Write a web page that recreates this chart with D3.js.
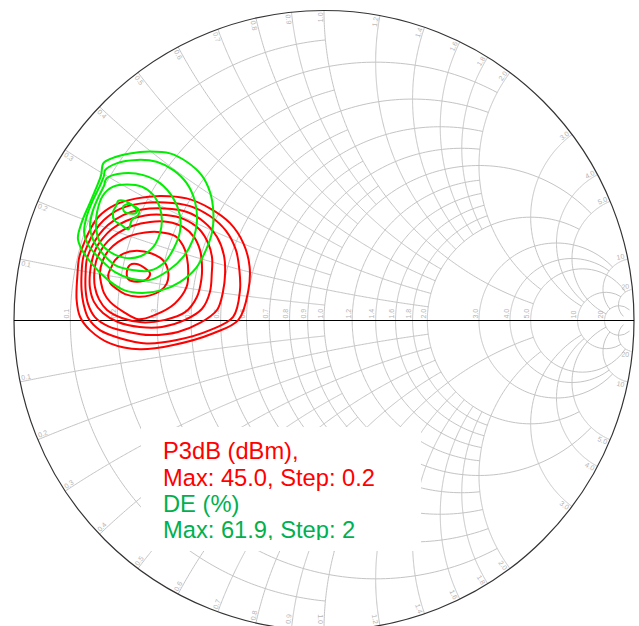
<!DOCTYPE html>
<html>
<head>
<meta charset="utf-8">
<script src="https://cdn.jsdelivr.net/npm/d3@7"></script>
<style>
  html, body { margin: 0; padding: 0; background: #ffffff; }
  svg { display: block; }
</style>
</head>
<body>
<svg id="chart" width="639" height="626"></svg>
<script>
// Grid values shared by resistance circles and reactance arcs
const gridValues = [0.1, 0.2, 0.3, 0.4, 0.5, 0.6, 0.7, 0.8, 0.9, 1.0, 1.2, 1.4, 1.6, 1.8, 2.0, 3.0, 4.0, 5.0, 10, 20];
// Each circle/arc stops where it meets the one of this value
const gridLimits = [1, 2, 1, 2, 1, 2, 1, 2, 1, 5, 2, 2, 2, 2, 5, 10, 10, 20, 20, 50];
const gridLabels = ["0.1", "0.2", "0.3", "0.4", "0.5", "0.6", "0.7", "0.8", "0.9", "1.0", "1.2", "1.4", "1.6", "1.8", "2.0", "3.0", "4.0", "5.0", "10", "20"];

// P3dB contours (reflection coefficient, re/im), innermost first
const p3dbContours = [
  [[-0.636,0.157],[-0.626,0.179],[-0.604,0.182],[-0.577,0.168],[-0.561,0.152],[-0.572,0.133],[-0.604,0.125],[-0.631,0.133]],
  [[-0.696,0.147],[-0.685,0.174],[-0.674,0.195],[-0.647,0.216],[-0.604,0.225],[-0.556,0.216],[-0.520,0.195],[-0.503,0.160],[-0.507,0.120],[-0.529,0.095],[-0.561,0.081],[-0.600,0.077],[-0.642,0.085],[-0.669,0.102],[-0.690,0.121]],
  [[-0.723,0.153],[-0.713,0.195],[-0.694,0.227],[-0.665,0.253],[-0.626,0.273],[-0.577,0.284],[-0.529,0.285],[-0.481,0.273],[-0.454,0.240],[-0.442,0.202],[-0.438,0.152],[-0.443,0.109],[-0.481,0.055],[-0.545,0.018],[-0.599,0.004],[-0.647,0.028],[-0.690,0.060],[-0.710,0.089],[-0.719,0.121]],
  [[-0.741,0.153],[-0.735,0.192],[-0.719,0.227],[-0.697,0.256],[-0.665,0.282],[-0.619,0.305],[-0.561,0.318],[-0.503,0.318],[-0.455,0.302],[-0.419,0.269],[-0.400,0.227],[-0.394,0.185],[-0.395,0.137],[-0.410,0.076],[-0.448,0.027],[-0.513,0.002],[-0.587,-0.006],[-0.652,0.008],[-0.700,0.034],[-0.726,0.069],[-0.739,0.108]],
  [[-0.755,0.153],[-0.748,0.195],[-0.735,0.234],[-0.713,0.266],[-0.684,0.295],[-0.639,0.321],[-0.577,0.339],[-0.510,0.340],[-0.452,0.327],[-0.403,0.295],[-0.374,0.250],[-0.361,0.202],[-0.362,0.153],[-0.368,0.092],[-0.394,0.037],[-0.448,0.002],[-0.523,-0.021],[-0.594,-0.021],[-0.665,-0.005],[-0.713,0.024],[-0.742,0.060],[-0.755,0.105]],
  [[-0.769,0.153],[-0.765,0.198],[-0.748,0.240],[-0.726,0.276],[-0.697,0.308],[-0.648,0.340],[-0.587,0.358],[-0.513,0.361],[-0.442,0.350],[-0.387,0.318],[-0.345,0.269],[-0.323,0.211],[-0.319,0.153],[-0.326,0.092],[-0.345,0.034],[-0.400,-0.008],[-0.471,-0.037],[-0.561,-0.047],[-0.632,-0.037],[-0.697,-0.018],[-0.739,0.011],[-0.761,0.053],[-0.769,0.098]],
  [[-0.782,0.153],[-0.777,0.202],[-0.761,0.247],[-0.739,0.289],[-0.710,0.324],[-0.658,0.360],[-0.594,0.377],[-0.513,0.381],[-0.432,0.369],[-0.368,0.337],[-0.316,0.289],[-0.284,0.227],[-0.273,0.163],[-0.271,0.098],[-0.293,0.012],[-0.368,-0.031],[-0.475,-0.063],[-0.572,-0.074],[-0.658,-0.057],[-0.723,-0.031],[-0.760,0.007],[-0.776,0.055],[-0.782,0.098]],
  [[-0.795,0.153],[-0.790,0.202],[-0.774,0.250],[-0.755,0.292],[-0.728,0.334],[-0.674,0.373],[-0.604,0.394],[-0.529,0.402],[-0.443,0.394],[-0.368,0.362],[-0.303,0.314],[-0.260,0.249],[-0.240,0.174],[-0.244,0.098],[-0.276,0.002],[-0.357,-0.041],[-0.486,-0.079],[-0.594,-0.093],[-0.690,-0.074],[-0.755,-0.031],[-0.787,0.012],[-0.798,0.066]]
];

// Drain efficiency contours (reflection coefficient, re/im), innermost first
const deContours = [
  [[-0.647,0.369],[-0.626,0.376],[-0.608,0.362],[-0.605,0.348],[-0.626,0.345],[-0.645,0.352]],
  [[-0.664,0.386],[-0.642,0.386],[-0.620,0.373],[-0.596,0.356],[-0.599,0.340],[-0.620,0.324],[-0.631,0.294],[-0.653,0.308],[-0.677,0.324],[-0.680,0.351],[-0.669,0.373]],
  [[-0.712,0.405],[-0.680,0.432],[-0.636,0.439],[-0.588,0.432],[-0.551,0.405],[-0.529,0.362],[-0.523,0.324],[-0.529,0.282],[-0.550,0.238],[-0.590,0.208],[-0.642,0.202],[-0.690,0.221],[-0.723,0.253],[-0.735,0.298],[-0.732,0.350]],
  [[-0.701,0.459],[-0.647,0.475],[-0.583,0.469],[-0.529,0.443],[-0.486,0.394],[-0.465,0.340],[-0.465,0.285],[-0.484,0.234],[-0.513,0.189],[-0.561,0.161],[-0.619,0.163],[-0.674,0.179],[-0.716,0.218],[-0.745,0.260],[-0.755,0.305],[-0.745,0.356],[-0.726,0.402],[-0.710,0.434]],
  [[-0.706,0.485],[-0.669,0.507],[-0.604,0.518],[-0.540,0.512],[-0.486,0.485],[-0.443,0.443],[-0.416,0.383],[-0.410,0.318],[-0.423,0.260],[-0.452,0.208],[-0.500,0.163],[-0.561,0.131],[-0.619,0.134],[-0.674,0.156],[-0.726,0.202],[-0.761,0.244],[-0.774,0.285],[-0.765,0.337],[-0.745,0.389],[-0.723,0.434],[-0.710,0.466]],
  [[-0.712,0.507],[-0.685,0.523],[-0.626,0.539],[-0.561,0.545],[-0.497,0.539],[-0.443,0.512],[-0.395,0.469],[-0.368,0.415],[-0.357,0.351],[-0.361,0.285],[-0.381,0.227],[-0.413,0.169],[-0.465,0.124],[-0.523,0.098],[-0.587,0.089],[-0.645,0.098],[-0.697,0.131],[-0.748,0.182],[-0.784,0.234],[-0.794,0.266],[-0.781,0.318],[-0.758,0.373],[-0.735,0.427],[-0.719,0.469]]
];

const legendLines = ["P3dB (dBm),", "Max: 45.0, Step: 0.2", "DE (%)", "Max: 61.9, Step: 2"];
const legendColors = ["#ff0000", "#ff0000", "#00b050", "#00b050"];

// ---- layout ----
const width = 639, height = 626;
const cx = 324, cy = 320.5, R = 310;
const x = d3.scaleLinear().domain([-1, 1]).range([cx - R, cx + R]);
const y = d3.scaleLinear().domain([-1, 1]).range([cy + R, cy - R]);

const svg = d3.select("#chart");

// normalised impedance -> reflection coefficient
function gamma(re, im) {
  const dr = re + 1, di = im, nr = re - 1, ni = im;
  const d = dr * dr + di * di;
  return [(nr * dr + ni * di) / d, (ni * dr - nr * di) / d];
}

const line = d3.line().x(d => x(d[0])).y(d => y(d[1]));
const N = 240;

const grid = svg.append("g")
  .attr("fill", "none")
  .attr("stroke", "#c4c4c4")
  .attr("stroke-width", 1);

gridValues.forEach((v, i) => {
  const L = Math.atan(gridLimits[i]);
  // constant resistance circle, |x| <= limit
  const rPts = d3.range(N + 1).map(k => gamma(v, Math.tan(-L + 2 * L * k / N)));
  grid.append("path").attr("d", line(rPts));
  // constant reactance arcs, 0 <= r <= limit
  [v, -v].forEach(xv => {
    const xPts = d3.range(N + 1).map(k => gamma(Math.tan(L * k / N), xv));
    grid.append("path").attr("d", line(xPts));
  });
});

// outer rim and real axis
svg.append("circle")
  .attr("cx", x(0)).attr("cy", y(0)).attr("r", x(1) - x(0))
  .attr("fill", "none").attr("stroke", "#333333").attr("stroke-width", 1.2);
svg.append("line")
  .attr("x1", x(-1)).attr("x2", x(1)).attr("y1", y(0)).attr("y2", y(0))
  .attr("stroke", "#000000").attr("stroke-width", 1.2);

// grid labels
const labels = svg.append("g")
  .attr("font-family", "Arial, 'Liberation Sans', sans-serif")
  .attr("font-size", 7)
  .attr("fill", "#b4b4b4");

gridValues.forEach((v, i) => {
  const g0 = gamma(v, 0);
  labels.append("text")
    .attr("transform", `translate(${x(g0[0]) - 1.5},${y(0) - 2}) rotate(-90)`)
    .text(gridLabels[i]);
  [1, -1].forEach(s => {
    const g = gamma(0, s * v);
    const th = Math.atan2(g[1], g[0]);
    const th2 = th + s * 0.012;
    const px = x(0.978 * Math.cos(th2));
    const py = Math.min(y(0.978 * Math.sin(th2)), height - 7);
    let deg = -th * 180 / Math.PI;
    if (Math.abs(deg) > 90) deg += 180;
    labels.append("text")
      .attr("transform", `translate(${px},${py}) rotate(${deg})`)
      .attr("text-anchor", "middle")
      .attr("dy", "0.35em")
      .text(gridLabels[i]);
  });
});

// contours
const contourLine = d3.line()
  .x(d => x(d[0])).y(d => y(d[1]))
  .curve(d3.curveCatmullRomClosed.alpha(0.5));

svg.append("g")
  .selectAll("path").data(p3dbContours).join("path")
  .attr("d", contourLine)
  .attr("fill", "none").attr("stroke", "#ff0000").attr("stroke-width", 2)
  .attr("stroke-linejoin", "round");

svg.append("g")
  .selectAll("path").data(deContours).join("path")
  .attr("d", contourLine)
  .attr("fill", "none").attr("stroke", "#00ee00").attr("stroke-width", 2)
  .attr("stroke-linejoin", "round");

// legend box
const legend = svg.append("g");
legend.append("rect")
  .attr("x", 141).attr("y", 427).attr("width", 280).attr("height", 124)
  .attr("fill", "#ffffff");
svg.append("clipPath").attr("id", "legendClip")
  .append("rect").attr("x", 141).attr("y", 427).attr("width", 280).attr("height", 113);
legend.append("g").attr("clip-path", "url(#legendClip)")
  .selectAll("text").data(legendLines).join("text")
  .attr("x", 163)
  .attr("y", (d, i) => 459.3 + i * 26.2)
  .attr("font-family", "Arial, 'Liberation Sans', sans-serif")
  .attr("font-size", 23.7)
  .attr("fill", (d, i) => legendColors[i])
  .text(d => d);
</script>
</body>
</html>
